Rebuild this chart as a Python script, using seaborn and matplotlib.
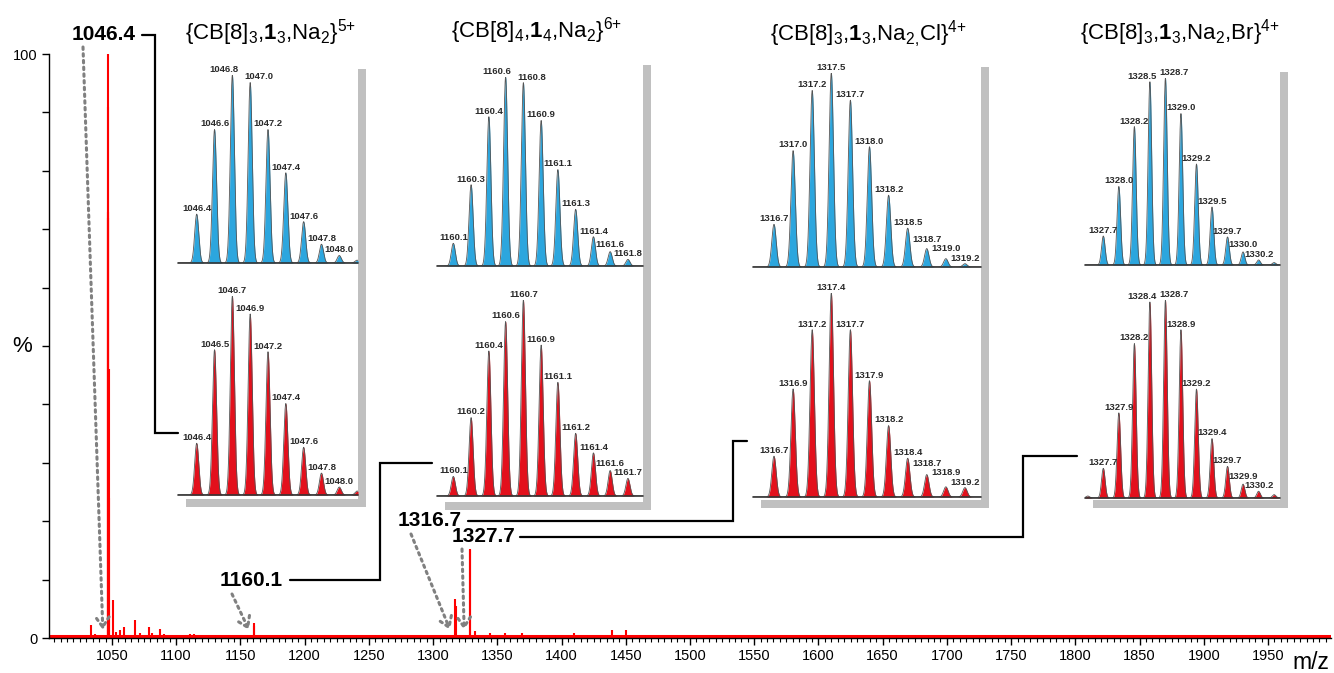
import numpy as np
import matplotlib
matplotlib.use('Agg')
import matplotlib.pyplot as plt
from matplotlib.patches import Rectangle
from matplotlib.ticker import MultipleLocator
import seaborn as sns

# ---- full spectrum (m/z, relative intensity %) ----
spec_mz = [1033.6, 1037.1, 1046.6, 1046.8, 1047.0, 1047.2, 1047.4, 1047.6, 1050.6,
           1053.5, 1056.0, 1059.4, 1068.0, 1071.6, 1079.0, 1081.4, 1087.7, 1090.8,
           1099.5, 1111.0, 1114.0, 1127.4, 1160.6, 1160.9, 1176.0, 1193.0, 1312.6,
           1317.4, 1317.7, 1328.4, 1328.7, 1332.4, 1344.0, 1355.6, 1369.0, 1377.0,
           1401.0, 1410.0, 1427.7, 1439.0, 1450.3, 1464.4, 1524.5, 1559.0, 1798.0]
spec_int = [2.2, 0.7, 73, 100, 91, 72, 46, 24, 6.5,
            1.0, 1.3, 1.8, 3.1, 0.9, 1.8, 0.9, 1.5, 0.7,
            0.4, 0.7, 0.7, 0.5, 2.6, 2.0, 0.4, 0.3, 0.5,
            6.6, 5.4, 15.2, 15.0, 1.2, 0.8, 0.8, 0.9, 0.5,
            0.5, 0.9, 0.5, 1.4, 1.3, 0.3, 0.3, 0.2, 0.2]
noise_floor = 0.3

# ---- isotope patterns: calculated (blue) and measured (red) ----
p1_mz = [1046.40, 1046.60, 1046.80, 1047.00, 1047.20, 1047.40, 1047.60, 1047.80, 1048.00, 1048.20]
p1_calc = [26, 71, 100, 96, 71, 48, 22, 10, 4, 1.5]
p1_meas = [26, 73, 100, 91, 72, 46, 24, 11, 4, 2]
p1_calc_lab = ['1046.4', '1046.6', '1046.8', '1047.0', '1047.2', '1047.4', '1047.6', '1047.8', '1048.0', '']
p1_meas_lab = ['1046.4', '1046.5', '1046.7', '1046.9', '1047.2', '1047.4', '1047.6', '1047.8', '1048.0', '']

p2_mz = [1160.13, 1160.30, 1160.47, 1160.63, 1160.80, 1160.97, 1161.13, 1161.30, 1161.47, 1161.63, 1161.80]
p2_calc = [12, 43, 79, 100, 97, 77, 51, 30, 15.5, 7.6, 3.5]
p2_meas = [10, 40, 74, 89, 100, 77, 58, 32, 22, 13, 9]
p2_calc_lab = ['1160.1', '1160.3', '1160.4', '1160.6', '1160.8', '1160.9', '1161.1', '1161.3', '1161.4', '1161.6', '1161.8']
p2_meas_lab = ['1160.1', '1160.2', '1160.4', '1160.6', '1160.7', '1160.9', '1161.1', '1161.2', '1161.4', '1161.6', '1161.7']

p3_mz = [1316.72, 1316.97, 1317.22, 1317.47, 1317.72, 1317.97, 1318.22, 1318.47, 1318.72, 1318.97, 1319.22]
p3_calc = [22, 60, 91, 100, 86, 62, 37, 20, 9.5, 4.3, 1.7]
p3_meas = [20, 53, 82, 100, 82, 57, 35, 19, 11, 5, 4.6]
p3_calc_lab = ['1316.7', '1317.0', '1317.2', '1317.5', '1317.7', '1318.0', '1318.2', '1318.5', '1318.7', '1319.0', '1319.2']
p3_meas_lab = ['1316.7', '1316.9', '1317.2', '1317.4', '1317.7', '1317.9', '1318.2', '1318.4', '1318.7', '1318.9', '1319.2']

p4_mz = [1327.47, 1327.72, 1327.97, 1328.22, 1328.47, 1328.72, 1328.97, 1329.22, 1329.47, 1329.72, 1329.97, 1330.22, 1330.47]
p4_calc = [0, 15.5, 42, 74, 98, 100, 81, 54, 31, 15, 7, 2.7, 1.3]
p4_meas = [1, 15, 43, 78, 99, 100, 85, 55, 30, 16, 7, 3.4, 1.7]
p4_calc_lab = ['', '1327.7', '1328.0', '1328.2', '1328.5', '1328.7', '1329.0', '1329.2', '1329.5', '1329.7', '1330.0', '1330.2', '']
p4_meas_lab = ['', '1327.7', '1327.9', '1328.2', '1328.4', '1328.7', '1328.9', '1329.2', '1329.4', '1329.7', '1329.9', '1330.2', '']

titles = [r'{CB[8]$_3$,$\mathbf{1}_3$,Na$_2$}$^{\text{5+}}$',
          r'{CB[8]$_4$,$\mathbf{1}_4$,Na$_2$}$^{\text{6+}}$',
          r'{CB[8]$_3$,$\mathbf{1}_3$,Na$_{\text{2,}}$Cl}$^{\text{4+}}$',
          r'{CB[8]$_3$,$\mathbf{1}_3$,Na$_2$,Br}$^{\text{4+}}$']
callouts = ['1046.4', '1160.1', '1316.7', '1327.7']

# ---- style ----
sns.set_theme(style='ticks')
plt.rcParams['font.family'] = ['Liberation Sans', 'DejaVu Sans']
plt.rcParams['mathtext.fontset'] = 'custom'
plt.rcParams['mathtext.rm'] = 'Liberation Sans'
plt.rcParams['mathtext.bf'] = 'Liberation Sans:bold'
plt.rcParams['mathtext.default'] = 'regular'

W, H = 1334, 673
fig = plt.figure(figsize=(W / 100, H / 100), dpi=100)
renderer = fig.canvas.get_renderer()

RED = '#ff0000'
BLUE = '#2ca6de'
DRED = '#e3101c'

# ---- main spectrum ----
ax = fig.add_axes([49 / W, (H - 638) / H, 1282 / W, 584 / H], zorder=0)
ax.vlines(spec_mz, 0, spec_int, color=RED, lw=1.5, clip_on=False)
ax.axhline(noise_floor, color=RED, lw=2.2)
ax.set_xlim(1001, 1999)
ax.set_ylim(0, 100)
sns.despine(ax=ax)
for s in ['left', 'bottom']:
    ax.spines[s].set_color('black')
    ax.spines[s].set_linewidth(1)
ax.xaxis.set_major_locator(MultipleLocator(50))
ax.xaxis.set_minor_locator(MultipleLocator(5))
ax.set_yticks(range(0, 101, 10))
ax.set_yticklabels(['0' if v == 0 else '100' if v == 100 else '' for v in range(0, 101, 10)])
ax.tick_params(axis='both', which='major', length=5, width=1, color='black',
               labelsize=10.5, labelcolor='black', direction='out', pad=3)
ax.tick_params(axis='x', which='minor', length=3, width=0.8, color='black', direction='out')
ax.set_ylabel('%', rotation=0, fontsize=16, color='black', va='center')
ax.yaxis.set_label_coords(-0.021, 0.5)
ax.set_xlabel('m/z', fontsize=16.5, color='black', va='center')
ax.xaxis.set_label_coords(0.984, -0.042)

# ---- overlay in pixel coordinates ----
ov = fig.add_axes([0, 0, 1, 1], zorder=1)
ov.set_xlim(0, W)
ov.set_ylim(H, 0)
ov.axis('off')

panels = [
    dict(mz=p1_mz, calc=p1_calc, meas=p1_meas, clab=p1_calc_lab, mlab=p1_meas_lab,
         box=(178, 358, 61, 499), blue=(263, 75), red=(495, 296), xlim=(1046.19, 1048.21),
         title=(271, 39)),
    dict(mz=p2_mz, calc=p2_calc, meas=p2_meas, clab=p2_calc_lab, mlab=p2_meas_lab,
         box=(437, 643, 57, 502), blue=(266, 77), red=(496, 300), xlim=(1159.974, 1161.944),
         title=(537, 37)),
    dict(mz=p3_mz, calc=p3_calc, meas=p3_meas, clab=p3_calc_lab, mlab=p3_meas_lab,
         box=(753, 981, 59, 500), blue=(267, 73), red=(497, 293), xlim=(1316.445, 1319.43),
         title=(868, 41)),
    dict(mz=p4_mz, calc=p4_calc, meas=p4_meas, clab=p4_calc_lab, mlab=p4_meas_lab,
         box=(1085, 1280, 64, 500), blue=(265, 78), red=(498, 300), xlim=(1327.425, 1330.565),
         title=(1180, 39)),
]


def overlap(a, b):
    return a.x0 < b.x1 and b.x0 < a.x1 and a.y0 < b.y1 and b.y0 < a.y1


def lift(upper, lower):
    # raise `upper` label so it sits just above `lower`
    ba = upper.get_window_extent(renderer)
    bb = lower.get_window_extent(renderer)
    if overlap(ba, bb):
        dx, dy = upper.xyann
        upper.xyann = (dx, dy + (bb.y1 - ba.y0 + 0.5) * 72 / 100)


def draw_pattern(l, r, base, top, mz, heights, labels, xlim, color):
    iax = fig.add_axes([l / W, (H - base) / H, (r - l) / W, (base - top) / H], zorder=2)
    iax.set_facecolor('none')
    iax.set_xlim(*xlim)
    iax.set_ylim(0, 100)
    iax.axis('off')
    sig = (mz[1] - mz[0]) * 0.115
    x = np.linspace(xlim[0], xlim[1], 2000)
    y = np.zeros_like(x)
    for m, h in zip(mz, heights):
        y += h * np.exp(-(x - m) ** 2 / (2 * sig ** 2))
    iax.fill_between(x, 0, y, color=color, lw=0)
    sns.lineplot(x=x, y=y, ax=iax, color='#555555', lw=0.6)
    iax.axhline(0, color='#333333', lw=1.2, clip_on=False)

    imax = int(np.argmax(heights))
    anns, idx = [], []
    for i, (m, h, lab) in enumerate(zip(mz, heights, labels)):
        if not lab:
            continue
        dx = 0
        if i > 0 and abs(heights[i - 1] - h) <= 4 and heights[i - 1] > 50:
            dx = 6
        if i < len(heights) - 1 and abs(heights[i + 1] - h) <= 4 and heights[i + 1] > 50:
            dx = -6
        a = iax.annotate(lab, (m, h), xytext=(dx, 0.8), textcoords='offset points',
                         ha='center', va='bottom', annotation_clip=False,
                         fontsize=6.8, fontweight='bold', color='#2a2a2a')
        anns.append(a)
        idx.append(i)
    mpos = idx.index(imax)
    # tail on the right: stack labels upward from the smallest peak
    for j in range(len(anns) - 2, mpos, -1):
        lift(anns[j], anns[j + 1])
    # rising side on the left
    for j in range(1, mpos):
        lift(anns[j], anns[j - 1])
    return iax


for p, title in zip(panels, titles):
    l, r, t, b = p['box']
    ov.add_patch(Rectangle((l + 8, t + 8), r - l, b - t, facecolor='#c0c0c0', edgecolor='none'))
    ov.add_patch(Rectangle((l, t), r - l, b - t, facecolor='white', edgecolor='none'))
    draw_pattern(l, r, p['blue'][0], p['blue'][1], p['mz'], p['calc'], p['clab'], p['xlim'], BLUE)
    draw_pattern(l, r, p['red'][0], p['red'][1], p['mz'], p['meas'], p['mlab'], p['xlim'], DRED)
    ov.text(p['title'][0], p['title'][1], title, ha='center', va='baseline',
            fontsize=16, color='black')

# ---- callouts: bold labels, connector lines, dotted arrows ----
call_text = [(136, 35), (283, 580), (462, 521), (515, 537)]
call_lines = [([142, 155, 155, 178], [35, 35, 433, 433]),
              ([290, 380, 380, 432], [580, 580, 463, 463]),
              ([468, 733, 733, 747], [521, 521, 441, 441]),
              ([520, 1023, 1023, 1077], [537, 537, 456, 456])]
arrow_start = [(83, 47), (232, 594), (411, 534), (462, 549)]

for lab, (tx, ty), (lx, ly), (sx, sy) in zip(callouts, call_text, call_lines, arrow_start):
    ov.text(tx, ty, lab, ha='right', va='center', fontsize=15, fontweight='bold', color='black')
    ov.plot(lx, ly, color='black', lw=1.6, solid_joinstyle='miter')
    ov.annotate('', xy=(float(lab) - 3.5, 1.4), xycoords=ax.transData,
                xytext=(sx, sy), textcoords='data',
                arrowprops=dict(arrowstyle='->,head_length=0.6,head_width=0.4', color='#808080',
                                lw=2.2, linestyle=(0, (0.8, 1.4)), shrinkA=0, shrinkB=0))

fig.savefig('out.png', dpi=100)
